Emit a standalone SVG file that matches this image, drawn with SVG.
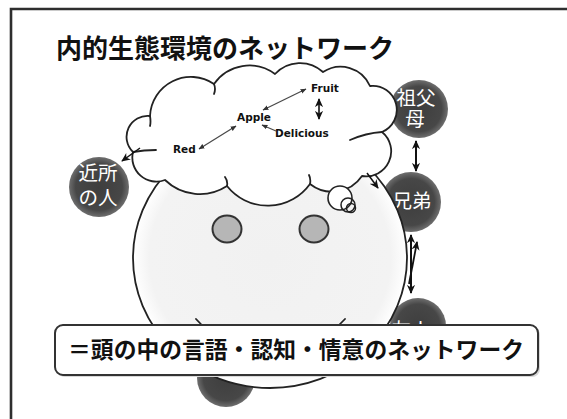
<svg xmlns="http://www.w3.org/2000/svg" width="567" height="419" viewBox="0 0 567 419">
  <style>
    .frame { fill: none; stroke: #2e2e2e; stroke-width: 2.6; }
    .title { font-family: "Noto Sans CJK JP", "Noto Sans CJK SC", sans-serif; font-weight: 700; font-size: 26px; fill: #111; }
    .node circle { fill: url(#nodeFill); }
    .node text { font-family: "Noto Sans CJK JP", "Noto Sans CJK SC", sans-serif; font-size: 19.5px; fill: #fff; text-anchor: middle; }
    .word { font-family: "DejaVu Sans", "Liberation Sans", sans-serif; font-weight: 700; font-size: 10.5px; fill: #111; }
    .thin { fill: none; stroke: #4a4a4a; stroke-width: 1.3; marker-start: url(#tipS); marker-end: url(#tipS); }
    .thin1 { fill: none; stroke: #4a4a4a; stroke-width: 1.3; marker-end: url(#tipS); }
    .bold2 { fill: none; stroke: #111; stroke-width: 2; marker-start: url(#tipB); marker-end: url(#tipB); }
    .bold1 { fill: none; stroke: #111; stroke-width: 1.8; marker-end: url(#tipB); }
    .outline { fill: none; stroke: #222; stroke-width: 1.8; stroke-linecap: round; }
    .banner-text { font-family: "Noto Sans CJK JP", "Noto Sans CJK SC", sans-serif; font-weight: 700; font-size: 22.8px; fill: #111; text-anchor: middle; }
  </style>
  <defs>
    <radialGradient id="nodeFill" cx="50%" cy="50%" r="50%">
      <stop offset="0" stop-color="#3e3e3e"/>
      <stop offset="0.78" stop-color="#474747"/>
      <stop offset="1" stop-color="#6e6e6e"/>
    </radialGradient>
    <radialGradient id="faceFill" cx="50%" cy="50%" r="50%">
      <stop offset="0" stop-color="#f1f1f1"/>
      <stop offset="0.88" stop-color="#f3f3f3"/>
      <stop offset="1" stop-color="#ffffff"/>
    </radialGradient>
    <marker id="tipS" viewBox="0 0 10 10" refX="9" refY="5" markerWidth="6" markerHeight="6" markerUnits="userSpaceOnUse" orient="auto-start-reverse">
      <path d="M0,1 L10,5 L0,9 Z" fill="#333"/>
    </marker>
    <marker id="tipB" viewBox="0 0 10 10" refX="9" refY="5" markerWidth="9" markerHeight="9" markerUnits="userSpaceOnUse" orient="auto-start-reverse">
      <path d="M0,0.5 L10,5 L0,9.5 L3,5 Z" fill="#111"/>
    </marker>
    <!-- keeps the friend label to the strip above the caption banner -->
    <clipPath id="aboveBanner">
      <rect x="380" y="290" width="80" height="35"/>
    </clipPath>
  </defs>

  <rect width="567" height="419" fill="#fff"/>

  <!-- slide frame (runs off the right and bottom edges) -->
  <path class="frame" d="M11,420 L11,9 L568,9"/>

  <text class="title" x="56" y="58">内的生態環境のネットワーク</text>

  <!-- people around the head -->
  <g id="node-grandparents" class="node">
    <circle cx="419" cy="109" r="29"/>
    <text><tspan x="416" y="105">祖父</tspan><tspan x="415" y="126">母</tspan></text>
  </g>
  <g id="node-siblings" class="node">
    <circle cx="411" cy="202" r="30"/>
    <text x="412" y="208">兄弟</text>
  </g>
  <g id="node-neighbors" class="node">
    <circle cx="99" cy="187" r="30"/>
    <text><tspan x="98" y="180">近所</tspan><tspan x="98" y="205">の人</tspan></text>
  </g>
  <g id="node-friends" class="node">
    <circle cx="418" cy="326" r="28"/>
    <text x="411" y="337" clip-path="url(#aboveBanner)">友人</text>
  </g>
  <g id="node-lower" class="node">
    <circle cx="226" cy="378" r="29"/>
  </g>

  <!-- head -->
  <g id="head">
    <ellipse cx="270" cy="258" rx="137" ry="130" fill="url(#faceFill)" stroke="#222" stroke-width="1.8"/>
    <ellipse cx="227" cy="229" rx="14.5" ry="13.5" fill="#b6b6b6" stroke="#333" stroke-width="2"/>
    <ellipse cx="314" cy="229" rx="14.5" ry="13.5" fill="#b6b6b6" stroke="#333" stroke-width="2"/>
    <path class="outline" d="M196,319 Q270,400 345,319"/>
  </g>

  <!-- thought cloud -->
  <g id="cloud">
    <path d="M133,152 A21,21 0 0 1 150,116 A41,41 0 0 1 214,84 A43,43 0 0 1 275,74 A34,34 0 0 1 323,72 A32,32 0 0 1 370,86 A24,24 0 0 1 382,132 A25,25 0 0 1 362,176 A36,36 0 0 1 310,184 A52,52 0 0 1 227,186 A50,50 0 0 1 165,180 A24,24 0 0 1 133,152 Z" fill="#fff" stroke="#222" stroke-width="1.8" stroke-linejoin="round"/>
    <path class="outline" d="M133,152 Q144,150 156,150 M382,132 Q366,133 350,140 M150,116 Q151,122 150,126 M214,84 Q216,89 214,94 M227,186 Q228,181 225,177 M310,184 Q311,179 309,175"/>
    <circle cx="340" cy="198" r="12" fill="#fff" stroke="#222" stroke-width="1.6"/>
    <circle cx="348" cy="205" r="7" fill="none" stroke="#222" stroke-width="1.5"/>
    <circle cx="351" cy="208" r="4.5" fill="none" stroke="#222" stroke-width="1.5"/>
    <text class="word" x="311" y="92">Fruit</text>
    <text class="word" x="237" y="121">Apple</text>
    <text class="word" x="275" y="137">Delicious</text>
    <text class="word" x="173" y="153">Red</text>
  </g>

  <!-- connectors -->
  <g id="connectors">
    <line class="thin" x1="263" y1="110" x2="306" y2="89"/>
    <line class="thin" x1="199" y1="149" x2="236" y2="126"/>
    <line class="thin1" x1="276" y1="131" x2="262" y2="125"/>
    <line class="bold2" x1="319" y1="99" x2="319" y2="119" style="stroke-width:1.6"/>
    <line class="bold1" x1="140" y1="148" x2="122" y2="161" style="stroke-width:1.5"/>
    <line class="bold1" x1="367" y1="173" x2="378" y2="188" style="stroke-width:1.5"/>
    <line class="bold2" x1="416" y1="141" x2="416" y2="171"/>
    <line class="bold2" x1="411" y1="235" x2="411" y2="293"/>
    <line class="bold1" x1="409" y1="284" x2="417" y2="242"/>
  </g>

  <!-- caption banner -->
  <g id="banner">
    <rect x="57" y="327" width="483" height="50" rx="8" fill="#d8d8d8"/>
    <rect x="55" y="325" width="483" height="50" rx="8" fill="#fff" stroke="#333" stroke-width="2"/>
    <text class="banner-text" x="296" y="358">＝頭の中の言語・認知・情意のネットワーク</text>
  </g>
</svg>
